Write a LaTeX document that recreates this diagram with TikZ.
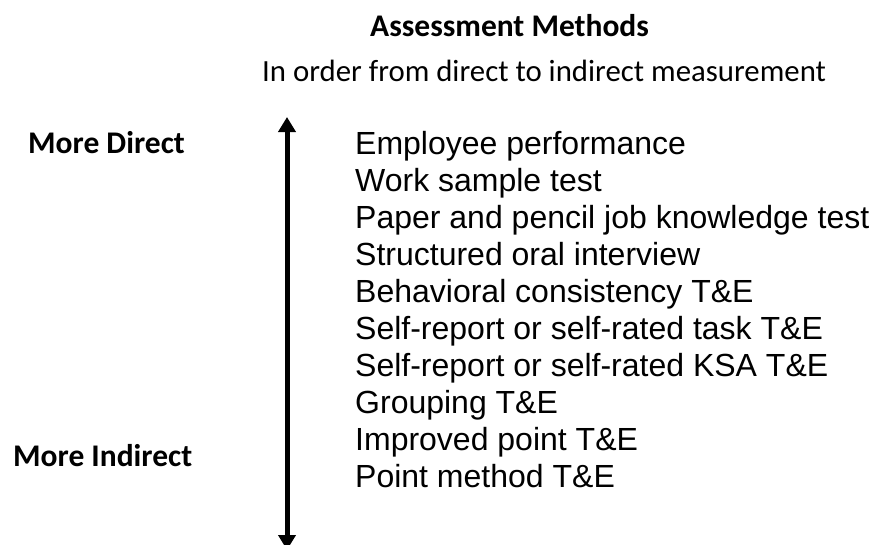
\documentclass[tikz,border=0pt]{standalone}
\usepackage{fontspec}
\usetikzlibrary{arrows.meta}
\newfontfamily\headfont{Carlito}
\newfontfamily\listfont{Liberation Sans}
\begin{document}
\begin{tikzpicture}[x=1pt,y=-1pt,
  headtext/.style={inner sep=0pt,anchor=base west,font=\headfont\fontsize{30.8}{37}\selectfont},
  boldhead/.style={inner sep=0pt,anchor=base west,font=\headfont\bfseries\fontsize{31.5}{37}\selectfont},
  itemtext/.style={inner sep=0pt,anchor=base west,font=\listfont\fontsize{32}{37}\selectfont},
  scale arrow/.style={line width=5pt,{Triangle[width=17pt,length=15pt]}-{Triangle[width=17pt,length=15pt]}}]
  \useasboundingbox (0,0) rectangle (873,544);
  \clip (0,0) rectangle (873,544);

  % heading
  \node[boldhead] (title) at (370,36) {Assessment Methods};
  \node[headtext] (subtitle) at (262,81) {In order from direct to indirect measurement};

  % ends of the scale
  \node[boldhead] (direct) at (28,153) {More Direct};
  \node[boldhead] (indirect) at (13,466) {More Indirect};

  % double-headed scale arrow
  \coordinate (top) at (287,117);
  \coordinate (bottom) at (287,550);
  \draw[scale arrow] (top) -- (bottom);

  % assessment methods, most direct first
  \foreach \t [count=\i from 0] in {Employee performance,
      Work sample test,
      Paper and pencil job knowledge test,
      Structured oral interview,
      Behavioral consistency T\&E,
      Self-report or self-rated task T\&E,
      Self-report or self-rated KSA T\&E,
      Grouping T\&E,
      Improved point T\&E,
      Point method T\&E}
    \node[itemtext] (m\i) at (355,154+37*\i) {\t};
\end{tikzpicture}
\end{document}
